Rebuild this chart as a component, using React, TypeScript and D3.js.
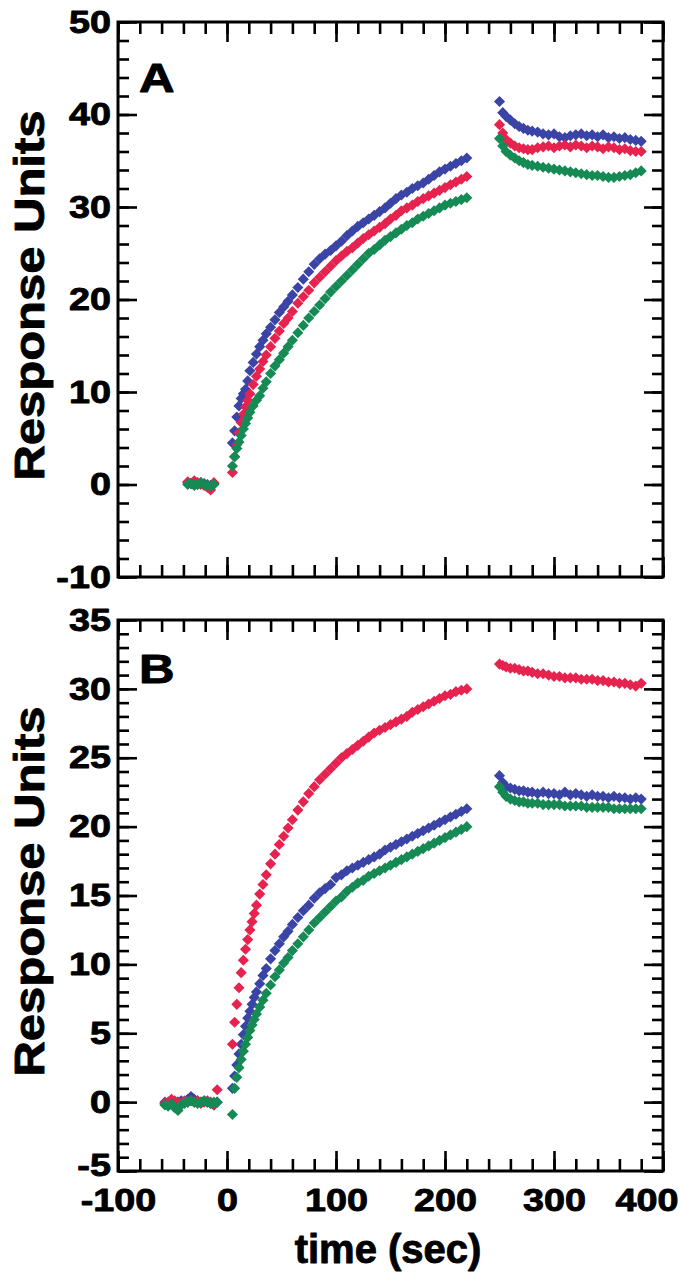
import { useEffect, useRef } from "react";
import * as d3 from "d3";

const W = 680;
const H = 1280;

// sampling times (sec)
const tBaseA = [-36, -33, -30, -27, -24, -21, -18, -15, -12];
const tBaseB = [-57, -54, -51, -48, -45, -42, -39, -36, -33, -30, -27, -24, -21, -18, -15, -12, -9];
const tAssocA = [5, 7, 9, 11, 13, 15, 17, 19, 21, 24, 27, 30, 33, 36, 40, 44, 48, 52, 56, 60,
  65, 70, 75, 80, 85, 90, 95, 100, 105, 110, 115, 120, 125, 130, 135, 140, 145, 150, 155, 160,
  165, 170, 175, 180, 185, 190, 195, 200, 205, 210, 215, 220];
const tAssocB = [5, 7, 9, 11, 13, 15, 17, 19, 21, 23, 25, 27, 30, 33, 36, 40, 44, 48, 52, 56, 60,
  65, 70, 75, 80, 85, 90, 95, 100, 105, 110, 115, 120, 125, 130, 135, 140, 145, 150, 155, 160,
  165, 170, 175, 180, 185, 190, 195, 200, 205, 210, 215, 220];
const tDiss = [250, 253, 256, 260, 264, 268, 272, 276, 280, 285, 290, 295, 300, 305, 310, 315,
  320, 325, 330, 335, 340, 345, 350, 355, 360, 365, 370, 375, 380];

// panel A (response units)
const blueBaseA = [0.2, 0.1, 0.3, 0.0, 0.2, 0.1, 0.0, -0.1, 0.1];
const redBaseA = [0.3, 0.1, 0.4, 0.2, 0.0, -0.1, -0.3, -0.6, 0.2];
const greenBaseA = [0.0, 0.1, -0.1, 0.0, 0.2, 0.0, -0.1, -0.2, 0.0];

const blueAssocA = [4.5, 5.8, 7.3, 8.5, 9.3, 9.8, 10.3, 11.2, 12.3, 13.2, 14.1, 14.9, 15.6, 16.3,
  17.0, 17.8, 18.6, 19.2, 19.8, 20.5, 21.3, 22.2, 23.0, 23.8, 24.4, 24.9, 25.3, 25.8, 26.3, 26.9,
  27.4, 27.9, 28.3, 28.7, 29.1, 29.5, 29.9, 30.4, 30.9, 31.3, 31.6, 32.0, 32.3, 32.6, 33.0, 33.4,
  33.8, 34.1, 34.4, 34.7, 35.0, 35.3];
const redAssocA = [1.3, 3.0, 4.3, 5.6, 6.7, 7.6, 8.4, 9.1, 9.8, 10.8, 11.7, 12.5, 13.3, 14.0,
  14.9, 15.8, 16.6, 17.4, 18.0, 18.7, 19.6, 20.3, 21.0, 21.8, 22.4, 23.0, 23.6, 24.2, 24.7, 25.2,
  25.6, 26.1, 26.6, 27.0, 27.4, 27.8, 28.2, 28.7, 29.1, 29.6, 29.9, 30.2, 30.6, 30.9, 31.2, 31.5,
  31.8, 32.1, 32.4, 32.7, 33.0, 33.3];
const greenAssocA = [2.0, 3.0, 3.9, 4.6, 5.3, 6.0, 6.6, 7.2, 7.8, 8.5, 9.1, 9.6, 10.4, 11.1,
  12.0, 12.8, 13.5, 14.2, 14.9, 15.6, 16.4, 17.2, 18.0, 18.7, 19.4, 20.1, 20.8, 21.4, 22.0, 22.6,
  23.2, 23.8, 24.4, 25.0, 25.4, 25.9, 26.4, 26.8, 27.2, 27.6, 28.0, 28.3, 28.7, 29.0, 29.3, 29.6,
  29.9, 30.2, 30.4, 30.6, 30.8, 31.0];

const blueDissA = [41.4, 40.2, 39.8, 39.4, 39.0, 38.7, 38.5, 38.3, 38.2, 38.1, 37.9, 37.8, 37.9,
  37.6, 37.5, 37.7, 37.8, 37.9, 37.7, 37.8, 37.6, 37.8, 37.5, 37.6, 37.4, 37.5, 37.3, 37.2, 37.1];
const redDissA = [38.9, 38.0, 37.3, 36.9, 36.6, 36.4, 36.3, 36.2, 36.2, 36.4, 36.5, 36.6, 36.4,
  36.6, 36.7, 36.5, 36.7, 36.6, 36.4, 36.6, 36.5, 36.3, 36.5, 36.4, 36.2, 36.3, 36.1, 36.0, 36.0];
const greenDissA = [37.4, 36.6, 36.0, 35.6, 35.3, 35.0, 34.8, 34.6, 34.5, 34.4, 34.3, 34.2, 34.1,
  34.0, 33.9, 33.8, 33.7, 33.6, 33.5, 33.4, 33.4, 33.3, 33.2, 33.2, 33.3, 33.4, 33.5, 33.7, 33.9];

// panel B (response units)
const blueBaseB = [0.0, -0.2, 0.1, -0.1, 0.0, 0.1, 0.0, 0.2, 0.4, 0.2, 0.1, 0.0, 0.1, 0.0, -0.1, -0.2, 0.0];
const redBaseB = [-0.1, 0.0, 0.2, 0.1, 0.0, -0.1, 0.1, 0.0, 0.1, 0.0, 0.1, -0.1, 0.0, 0.1, 0.0, -0.2, 0.9];
const greenBaseB = [-0.2, -0.3, -0.1, -0.4, -0.6, -0.2, -0.1, 0.0, 0.1, 0.0, -0.1, 0.0, 0.1, 0.0, -0.1, 0.0, 0.0];

const blueAssocB = [1.0, 1.9, 2.7, 3.5, 4.2, 4.9, 5.5, 6.1, 6.6, 7.1, 7.6, 8.0, 8.6, 9.2, 9.7,
  10.4, 11.0, 11.5, 12.0, 12.4, 12.9, 13.4, 13.9, 14.3, 14.8, 15.2, 15.5, 15.8, 16.3, 16.5, 16.8,
  17.0, 17.2, 17.4, 17.6, 17.8, 18.0, 18.3, 18.5, 18.7, 18.9, 19.1, 19.3, 19.5, 19.7, 19.9, 20.1,
  20.3, 20.5, 20.7, 20.9, 21.1, 21.3];
const redAssocB = [4.2, 5.8, 7.1, 8.3, 9.4, 10.3, 11.1, 11.8, 12.5, 13.1, 13.7, 14.3, 15.1, 15.8,
  16.5, 17.3, 18.0, 18.7, 19.3, 19.9, 20.5, 21.2, 21.8, 22.4, 22.9, 23.4, 23.8, 24.2, 24.6, 25.0,
  25.3, 25.6, 25.9, 26.2, 26.5, 26.8, 27.0, 27.2, 27.4, 27.6, 27.8, 28.0, 28.3, 28.5, 28.7, 28.9,
  29.1, 29.3, 29.5, 29.6, 29.8, 29.9, 30.0];
const greenAssocB = [-0.9, 1.0, 1.8, 2.5, 3.1, 3.7, 4.2, 4.7, 5.2, 5.6, 6.0, 6.4, 6.9, 7.4, 7.9,
  8.5, 9.1, 9.6, 10.1, 10.5, 11.0, 11.5, 12.0, 12.5, 13.0, 13.4, 13.8, 14.2, 14.6, 14.9, 15.3,
  15.6, 15.9, 16.1, 16.4, 16.6, 16.8, 17.0, 17.2, 17.4, 17.6, 17.8, 18.0, 18.2, 18.4, 18.6, 18.8,
  19.0, 19.2, 19.4, 19.6, 19.8, 20.0];

const blueDissB = [23.7, 23.2, 22.9, 22.8, 22.7, 22.6, 22.6, 22.5, 22.5, 22.4, 22.5, 22.4, 22.4,
  22.3, 22.5, 22.3, 22.4, 22.3, 22.2, 22.3, 22.2, 22.2, 22.1, 22.2, 22.1, 22.1, 22.0, 22.1, 22.0];
const redDissB = [31.8, 31.7, 31.6, 31.5, 31.5, 31.4, 31.3, 31.3, 31.2, 31.1, 31.1, 31.0, 30.9,
  30.9, 30.8, 30.8, 30.8, 30.7, 30.7, 30.7, 30.6, 30.6, 30.5, 30.5, 30.4, 30.4, 30.3, 30.2, 30.4];
const greenDissB = [22.9, 22.5, 22.2, 22.0, 21.9, 21.8, 21.8, 21.7, 21.7, 21.7, 21.6, 21.6, 21.6,
  21.6, 21.5, 21.5, 21.5, 21.5, 21.4, 21.4, 21.4, 21.4, 21.4, 21.3, 21.3, 21.3, 21.3, 21.3, 21.3];

const BLUE = "#3a44a6";
const RED = "#e6234f";
const GREEN = "#168a54";
const FONT = "'Liberation Sans', Arial, Helvetica, sans-serif";

const App = () => {
  const svgRef = useRef<SVGSVGElement>(null);

  useEffect(() => {
    const svg = d3.select(svgRef.current);
    svg.selectAll("*").remove();

    const left = 118, right = 663;
    const x = d3.scaleLinear().domain([-100, 400]).range([left, right]);
    const xMajor = d3.range(-100, 401, 100);
    const xMinor = d3.range(-100, 401, 20);

    const panels = [
      {
        letter: "A",
        y: d3.scaleLinear().domain([-10, 50]).range([577, 22]),
        yMajor: d3.range(-10, 51, 10),
        yMinor: d3.range(-10, 51, 2),
        letterY: 92,
        showX: false,
        series: [
          { color: BLUE, parts: [[tBaseA, blueBaseA], [tAssocA, blueAssocA], [tDiss, blueDissA]] },
          { color: RED, parts: [[tBaseA, redBaseA], [tAssocA, redAssocA], [tDiss, redDissA]] },
          { color: GREEN, parts: [[tBaseA, greenBaseA], [tAssocA, greenAssocA], [tDiss, greenDissA]] },
        ],
      },
      {
        letter: "B",
        y: d3.scaleLinear().domain([-5, 35]).range([1171, 620]),
        yMajor: d3.range(-5, 36, 5),
        yMinor: d3.range(-5, 36, 1),
        letterY: 683,
        showX: true,
        series: [
          { color: BLUE, parts: [[tBaseB, blueBaseB], [tAssocB, blueAssocB], [tDiss, blueDissB]] },
          { color: RED, parts: [[tBaseB, redBaseB], [tAssocB, redAssocB], [tDiss, redDissB]] },
          { color: GREEN, parts: [[tBaseB, greenBaseB], [tAssocB, greenAssocB], [tDiss, greenDissB]] },
        ],
      },
    ];

    const heavy = (t) =>
      t.attr("font-family", FONT)
        .attr("font-weight", "bold")
        .attr("fill", "#000")
        .attr("stroke", "#000")
        .attr("stroke-width", 0.9)
        .attr("stroke-linejoin", "round");

    const styleAxis = (g) => {
      g.select(".domain").remove();
      g.selectAll("line").attr("stroke", "#000").attr("stroke-width", 2.6);
      g.selectAll("text")
        .call(heavy)
        .attr("font-size", 32)
        .attr("transform", "scale(1.18,1)");
    };

    const diamond = d3.symbol().type(d3.symbolSquare).size(62);

    panels.forEach((p) => {
      const [bottom, top] = p.y.range();
      const g = svg.append("g");

      // data points
      p.series.forEach((s) => {
        const pts = s.parts.flatMap(([t, v]) => d3.zip(t, v));
        g.append("g")
          .selectAll("path")
          .data(pts)
          .join("path")
          .attr("d", diamond)
          .attr("fill", s.color)
          .attr("transform", (d) => `translate(${x(d[0])},${p.y(d[1])}) rotate(45)`);
      });

      // x axes: bottom and top, ticks inward
      g.append("g")
        .attr("transform", `translate(0,${bottom})`)
        .call(d3.axisBottom(x).tickValues(xMinor).tickSize(-12).tickFormat(() => ""))
        .call(styleAxis);
      const xb = g.append("g")
        .attr("transform", `translate(0,${bottom})`)
        .call(
          d3.axisBottom(x).tickValues(xMajor).tickSize(-20).tickPadding(17)
            .tickFormat((d) => (p.showX ? String(d) : ""))
        )
        .call(styleAxis);
      // keep the last label inside the page
      xb.selectAll("text")
        .filter((d) => d === 400)
        .attr("text-anchor", "end")
        .attr("x", (W - 2 - right) / 1.18);
      g.append("g")
        .attr("transform", `translate(0,${top})`)
        .call(d3.axisTop(x).tickValues(xMinor).tickSize(-12).tickFormat(() => ""))
        .call(styleAxis);
      g.append("g")
        .attr("transform", `translate(0,${top})`)
        .call(d3.axisTop(x).tickValues(xMajor).tickSize(-20).tickFormat(() => ""))
        .call(styleAxis);

      // y axes: left and right, ticks inward
      g.append("g")
        .attr("transform", `translate(${left},0)`)
        .call(d3.axisLeft(p.y).tickValues(p.yMinor).tickSize(-11).tickFormat(() => ""))
        .call(styleAxis);
      const yl = g.append("g")
        .attr("transform", `translate(${left},0)`)
        .call(d3.axisLeft(p.y).tickValues(p.yMajor).tickSize(-19).tickPadding(6).tickFormat((d) => String(d)))
        .call(styleAxis);
      // lowest label of the lower panel sits a little above the corner
      if (p.showX) {
        yl.selectAll("text").filter((d) => d === p.yMajor[0]).attr("y", -6);
      }
      g.append("g")
        .attr("transform", `translate(${right},0)`)
        .call(d3.axisRight(p.y).tickValues(p.yMinor).tickSize(-11).tickFormat(() => ""))
        .call(styleAxis);
      g.append("g")
        .attr("transform", `translate(${right},0)`)
        .call(d3.axisRight(p.y).tickValues(p.yMajor).tickSize(-19).tickFormat(() => ""))
        .call(styleAxis);

      // frame
      g.append("rect")
        .attr("x", left)
        .attr("y", top)
        .attr("width", right - left)
        .attr("height", bottom - top)
        .attr("fill", "none")
        .attr("stroke", "#000")
        .attr("stroke-width", 3);

      // panel letter
      g.append("text")
        .attr("transform", `translate(139,${p.letterY}) scale(1.2,1)`)
        .call(heavy)
        .attr("font-size", 41)
        .text(p.letter);

      // y title
      g.append("text")
        .attr("transform", `translate(44,${(top + bottom) / 2 - 4}) rotate(-90)`)
        .attr("text-anchor", "middle")
        .call(heavy)
        .attr("font-size", 43)
        .attr("textLength", 370)
        .attr("lengthAdjust", "spacingAndGlyphs")
        .text("Response Units");
    });

    // x title
    svg.append("text")
      .attr("x", 388)
      .attr("y", 1263)
      .attr("text-anchor", "middle")
      .call(heavy)
      .attr("font-size", 40)
      .text("time (sec)");
  }, []);

  return (
    <svg
      ref={svgRef}
      width={W}
      height={H}
      style={{ position: "absolute", left: 0, top: 0, background: "#fff" }}
    />
  );
};

export default App;
